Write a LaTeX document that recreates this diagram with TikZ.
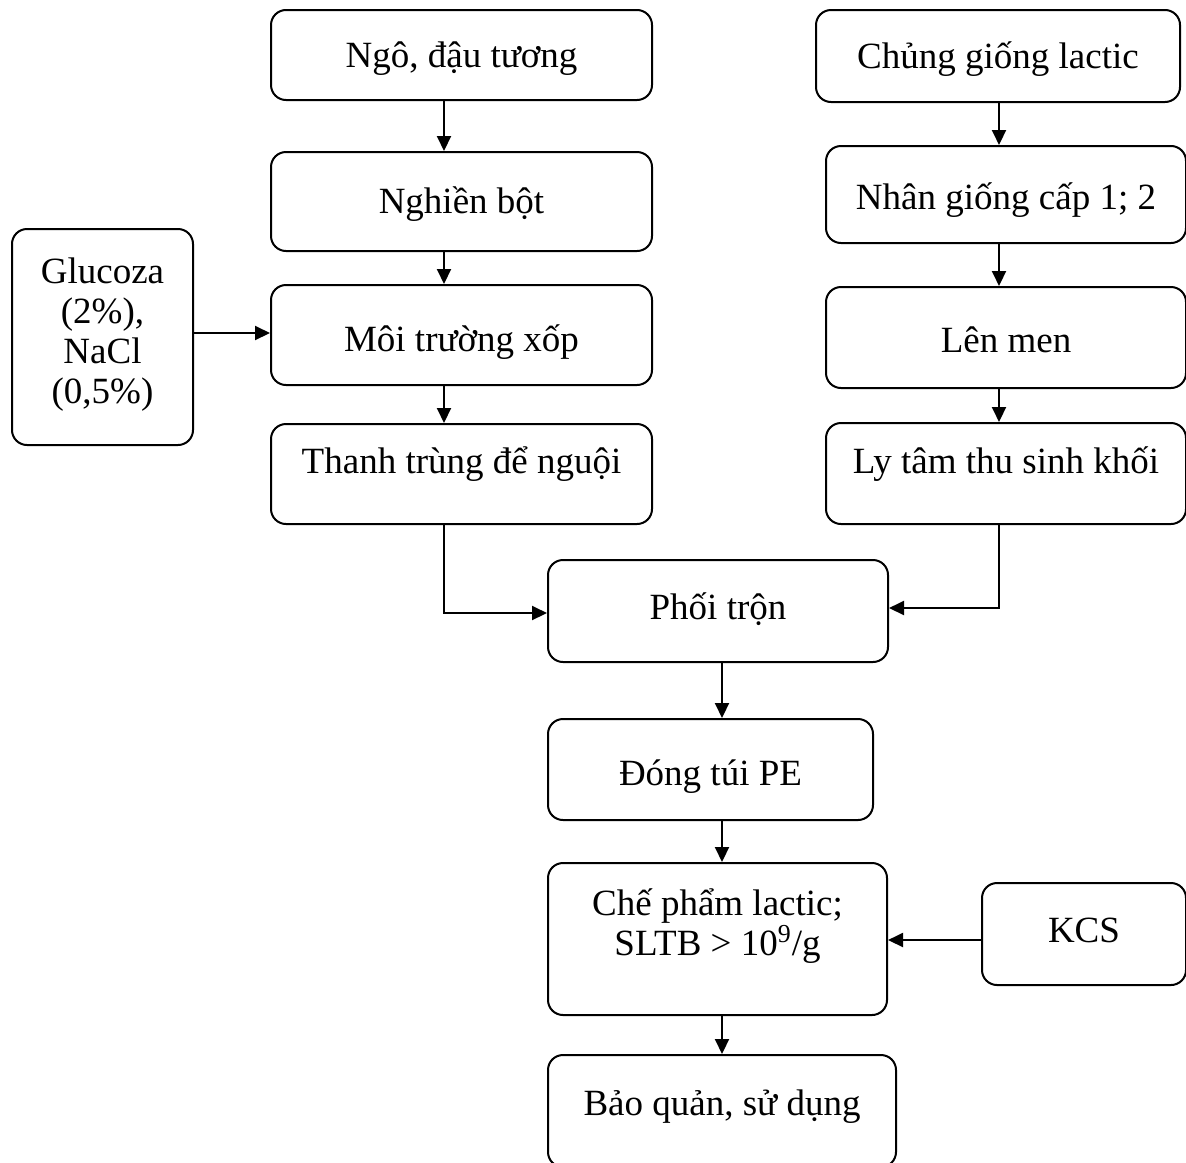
\documentclass[tikz,border=0pt]{standalone}
\usepackage{fontspec}
\setmainfont{Liberation Serif}
\usetikzlibrary{arrows.meta}

\tikzset{
  box/.style 2 args={draw, line width=1pt, rounded corners=7.5pt,
    minimum width=#1*0.5pt, minimum height=#2*0.5pt, inner sep=0pt,
    text height=12.2pt, text depth=0pt},
  lift/.style={text depth=#1pt},
  drop/.style={text height=12.2pt+#1pt},
  arr/.style={line width=1pt, -{Triangle[length=7.5pt,width=7pt]}},
}

\begin{document}
\begin{tikzpicture}[x=0.5pt,y=-0.5pt,
    every node/.style={font=\fontsize{18.5pt}{20pt}\selectfont}]
  % page frame (boxes on the right and at the bottom run off the page)
  \useasboundingbox (0,0) rectangle (1186,1162);
  \clip (0,0) rectangle (1186,1162);

  % connector lanes
  \coordinate (laneL) at (444,0);
  \coordinate (laneR) at (999,0);
  \coordinate (laneC) at (722,0);
  \coordinate (rowGl) at (0,333);
  \coordinate (rowMixL) at (0,613);
  \coordinate (rowMixR) at (0,608);
  \coordinate (rowKcs) at (0,940);

  % left column: substrate
  \node[box={381}{90}] (ngo) at (461.5,55) {Ngô, đậu tương};
  \node[box={381}{99}] (nghien) at (461.5,201.5) {Nghiền bột};
  \node[box={381}{100}, drop=4] (moi) at (461.5,335) {Môi trường xốp};
  \node[box={381}{100}, lift=13] (thanh) at (461.5,474) {Thanh trùng để nguội};
  \node[box={181}{216}, align=center, text height=72.2pt, lift=6]
    (gluco) at (102.5,337) {Glucoza\\(2\%),\\NaCl\\(0,5\%)};

  % right column: strain
  \node[box={364}{92}] (chung) at (998,56) {Chủng giống lactic};
  \node[box={360}{97}, drop=3] (nhan) at (1006,194.5) {Nhân giống cấp 1; 2};
  \node[box={360}{101}, drop=3] (len) at (1006,337.5) {Lên men};
  \node[box={360}{101}, lift=12] (ly) at (1006,473.5) {Ly tâm thu sinh khối};

  % middle: product
  \node[box={340}{102}, lift=4] (phoi) at (718,611) {Phối trộn};
  \node[box={325}{101}, drop=3.5] (dong) at (710.5,769.5) {Đóng túi PE};
  \node[box={339}{152}, align=center, text height=32.2pt, lift=16]
    (che) at (717.5,939) {Chế phẩm lactic;\\SLTB > 10\textsuperscript{9}/g};
  \node[box={204}{102}, lift=4] (kcs) at (1084,934) {KCS};
  \node[box={348}{112}, lift=8] (bao) at (722,1111) {Bảo quản, sử dụng};

  % arrows
  \draw[arr] (ngo.south -| laneL) -- (nghien.north -| laneL);
  \draw[arr] (nghien.south -| laneL) -- (moi.north -| laneL);
  \draw[arr] (moi.south -| laneL) -- (thanh.north -| laneL);
  \draw[arr] (gluco.east |- rowGl) -- (moi.west |- rowGl);
  \draw[arr] (chung.south -| laneR) -- (nhan.north -| laneR);
  \draw[arr] (nhan.south -| laneR) -- (len.north -| laneR);
  \draw[arr] (len.south -| laneR) -- (ly.north -| laneR);
  \draw[arr] (thanh.south -| laneL) |- (phoi.west |- rowMixL);
  \draw[arr] (ly.south -| laneR) |- (phoi.east |- rowMixR);
  \draw[arr] (phoi.south -| laneC) -- (dong.north -| laneC);
  \draw[arr] (dong.south -| laneC) -- (che.north -| laneC);
  \draw[arr] (kcs.west |- rowKcs) -- (che.east |- rowKcs);
  \draw[arr] (che.south -| laneC) -- (bao.north -| laneC);
\end{tikzpicture}
\end{document}
